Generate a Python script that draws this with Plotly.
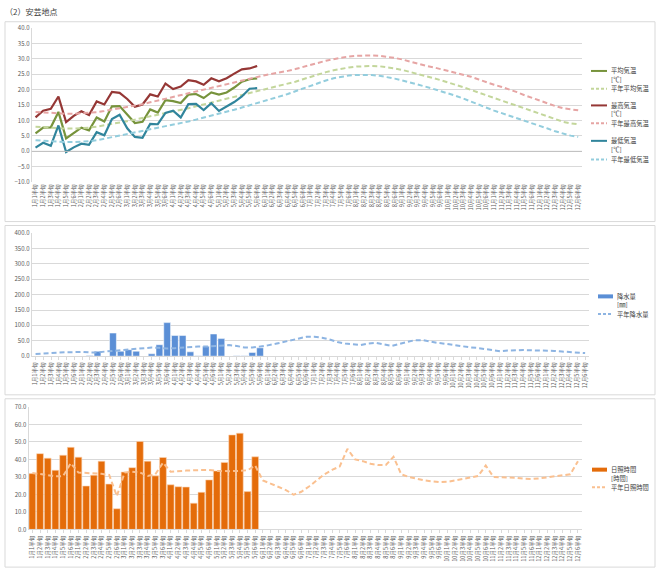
import plotly.graph_objects as go

W, H = 660, 578
FONT = "Noto Sans CJK JP"

months = [f"{m}月" for m in range(1, 13)]
pentads = [f"{k}半旬" for k in range(1, 7)]
cats = [m + p for m in months for p in pentads]

# ---- temperature (observed, 1月1半旬 .. 5月6半旬) ----
t_mean = [5.8, 7.7, 7.8, 12.8, 4.2, 6.0, 7.7, 6.8, 11.0, 9.7, 14.6, 14.7, 12.0, 9.2, 9.6,
          13.6, 12.6, 16.6, 16.3, 15.7, 18.4, 18.6, 17.3, 19.1, 18.4, 19.1, 20.7, 22.6, 23.4, 23.7]
t_max = [11.0, 13.2, 13.8, 17.8, 9.5, 11.5, 13.0, 11.8, 16.2, 15.2, 19.3, 19.0, 17.0, 14.5, 15.2,
         18.5, 17.8, 22.0, 20.2, 21.0, 23.1, 22.7, 21.6, 23.7, 22.7, 23.7, 25.2, 26.6, 26.9, 27.7]
t_min = [1.2, 2.8, 1.8, 8.4, -0.2, 1.3, 2.5, 2.1, 6.2, 5.2, 10.5, 11.9, 7.5, 4.7, 4.4,
         8.9, 8.8, 12.5, 13.2, 11.0, 15.3, 15.4, 13.4, 15.6, 13.1, 14.6, 16.0, 17.8, 20.3, 20.5]

# ---- temperature normals (72 pentads) ----
n_mean = [8.0, 7.8, 7.6, 7.5, 7.4, 7.4, 7.5, 7.7, 8.0, 8.4, 8.8, 9.3, 9.8, 10.3, 10.8, 11.3, 11.8, 12.3,
          12.8, 13.4, 14.0, 14.6, 15.2, 15.8, 16.4, 17.0, 17.7, 18.3, 18.9, 19.5, 20.0, 20.6, 21.2, 21.8,
          22.6, 23.4, 24.2, 25.0, 25.7, 26.3, 26.8, 27.2, 27.5, 27.7, 27.7, 27.6, 27.3, 26.9, 26.4, 25.8,
          25.2, 24.5, 23.8, 23.1, 22.4, 21.6, 20.8, 19.9, 19.0, 18.1, 17.2, 16.4, 15.6, 14.8, 13.9, 13.0,
          12.1, 11.2, 10.3, 9.6, 9.1, 8.8]
n_max = [12.8, 12.6, 12.4, 12.3, 12.2, 12.2, 12.3, 12.5, 12.7, 13.1, 13.5, 13.9, 14.3, 14.8, 15.3, 15.9,
         16.5, 17.1, 17.7, 18.3, 18.9, 19.5, 20.1, 20.7, 21.3, 21.9, 22.5, 23.1, 23.7, 24.2, 24.7, 25.2,
         25.6, 26.1, 26.7, 27.4, 28.1, 28.7, 29.4, 29.9, 30.4, 30.8, 31.0, 31.1, 31.1, 31.0, 30.7, 30.3,
         29.8, 29.1, 28.4, 27.8, 27.3, 26.7, 26.1, 25.5, 24.9, 24.2, 23.3, 22.4, 21.6, 20.9, 20.1, 19.2,
         18.2, 17.3, 16.4, 15.5, 14.7, 14.0, 13.6, 13.3]
n_min = [3.6, 3.4, 3.2, 3.1, 3.0, 3.0, 3.1, 3.3, 3.6, 4.1, 4.5, 5.0, 5.5, 6.0, 6.5, 7.0, 7.5, 8.0, 8.5,
         9.1, 9.7, 10.3, 10.9, 11.5, 12.1, 12.8, 13.5, 14.2, 14.9, 15.6, 16.3, 17.0, 17.8, 18.6, 19.5,
         20.4, 21.3, 22.2, 23.0, 23.7, 24.2, 24.6, 24.8, 24.9, 24.8, 24.5, 24.1, 23.6, 23.0, 22.4, 21.7,
         21.0, 20.3, 19.6, 18.8, 18.0, 17.1, 16.1, 15.1, 14.1, 13.2, 12.4, 11.6, 10.8, 10.0, 9.2, 8.3,
         7.4, 6.5, 5.7, 5.1, 4.7]

# ---- precipitation ----
precip = [0, 0, 0, 0, 0, 0, 0, 2, 16, 0, 75, 16, 21, 16, 0, 7.5, 37, 109, 67, 67, 14, 1, 32, 72, 57,
          0, 1, 1, 12, 27]
n_precip = [7, 9, 11, 12, 13, 13, 14, 12, 12, 15, 17, 19, 22, 24, 26, 28, 27, 25, 26, 28, 30, 31, 31,
            32, 34, 36, 33, 28, 28, 31, 35, 40, 46, 53, 59, 63, 63, 60, 54, 46, 41, 38, 36, 41, 43, 38,
            33, 40, 47, 52, 52, 47, 43, 40, 36, 31, 29, 27, 24, 20, 16, 18, 20, 20, 19, 19, 18, 17, 15,
            13, 11, 10]

# ---- sunshine ----
sun = [31.9, 43.3, 40.7, 33.8, 42.4, 46.9, 41.3, 24.8, 31.0, 39.0, 25.9, 11.8, 32.8, 35.3, 50.3,
       39.0, 30.6, 41.1, 25.5, 24.4, 24.2, 15.0, 21.2, 28.3, 33.4, 38.3, 54.0, 55.0, 21.6, 41.5]
n_sun = [32.3, 31.5, 30.8, 30.3, 30.5, 37.8, 32.5, 32.3, 32.0, 31.8, 31.1, 19.0, 32.5, 33.0, 32.5,
         30.6, 31.5, 38.1, 33.0, 33.5, 33.6, 33.8, 33.9, 34.0, 33.4, 33.2, 33.3, 33.5, 33.8, 36.5,
         28.0, 26.2, 24.5, 22.5, 19.8, 21.5, 24.5, 28.0, 31.5, 34.0, 36.0, 46.0, 40.0, 39.0, 37.5,
         36.8, 36.8, 41.5, 31.5, 30.0, 29.0, 28.0, 27.5, 27.0, 27.2, 28.0, 28.8, 29.8, 30.5, 36.5,
         30.0, 29.8, 29.7, 29.5, 29.0, 28.8, 29.2, 29.8, 30.2, 30.8, 31.5, 39.0]

C_MEAN, C_NMEAN = "#77933C", "#C3D69B"
C_MAX, C_NMAX = "#953735", "#E6A5A4"
C_MIN, C_NMIN = "#31859C", "#93CDDD"
C_PR, C_NPR = "#5B8FD6", "#8DB4E2"
C_SUN, C_NSUN = "#E46C0A", "#FAC090"
DASH = "5px,3px"

fig = go.Figure()
n = len(t_mean)
# panel 1
fig.add_trace(go.Scatter(x=cats[:n], y=t_mean, mode="lines", line=dict(color=C_MEAN, width=2.2), xaxis="x", yaxis="y"))
fig.add_trace(go.Scatter(x=cats, y=n_mean, mode="lines", line=dict(color=C_NMEAN, width=2, dash=DASH), xaxis="x", yaxis="y"))
fig.add_trace(go.Scatter(x=cats[:n], y=t_max, mode="lines", line=dict(color=C_MAX, width=2.2), xaxis="x", yaxis="y"))
fig.add_trace(go.Scatter(x=cats, y=n_max, mode="lines", line=dict(color=C_NMAX, width=2, dash=DASH), xaxis="x", yaxis="y"))
fig.add_trace(go.Scatter(x=cats[:n], y=t_min, mode="lines", line=dict(color=C_MIN, width=2.2), xaxis="x", yaxis="y"))
fig.add_trace(go.Scatter(x=cats, y=n_min, mode="lines", line=dict(color=C_NMIN, width=2, dash=DASH), xaxis="x", yaxis="y"))
# panel 2
fig.add_trace(go.Bar(x=cats[:len(precip)], y=precip, marker=dict(color=C_PR, line=dict(color="white", width=0.5)), xaxis="x2", yaxis="y2"))
fig.add_trace(go.Scatter(x=cats, y=n_precip, mode="lines", line=dict(color=C_NPR, width=2, dash=DASH), xaxis="x2", yaxis="y2"))
# panel 3
fig.add_trace(go.Bar(x=cats[:len(sun)], y=sun, marker=dict(color=C_SUN, line=dict(color="#FBD5B5", width=0.6)), xaxis="x3", yaxis="y3"))
fig.add_trace(go.Scatter(x=cats, y=n_sun, mode="lines", line=dict(color=C_NSUN, width=2, dash=DASH), xaxis="x3", yaxis="y3"))


def xd(a, b):
    return [a / W, b / W]


def yd(top, bottom):
    return [1 - bottom / H, 1 - top / H]


tickfont_x = dict(family=FONT, size=5.6, color="#595959")
tickfont_y = dict(family=FONT, size=6, color="#595959")
GRID = "#D9D9D9"

common_x = dict(type="category", range=[-0.5, 71.5], tickmode="array", tickvals=cats, ticktext=cats,
                tickangle=-90, tickfont=tickfont_x, showgrid=False, zeroline=False,
                showline=True, linecolor=GRID, linewidth=1, ticks="outside", ticklen=3, tickcolor=GRID,
                fixedrange=True)
common_y = dict(tickfont=tickfont_y, tickformat=".1f", showgrid=True, gridcolor=GRID, gridwidth=1,
                zeroline=False, showline=True, linecolor=GRID, linewidth=1, ticks="", fixedrange=True)

fig.update_layout(
    xaxis=dict(common_x, domain=xd(31.7, 582), anchor="y"),
    yaxis=dict(common_y, domain=yd(23.4, 180), range=[-10, 40], dtick=5, anchor="x"),
    xaxis2=dict(common_x, domain=xd(31.7, 589), anchor="y2"),
    yaxis2=dict(common_y, domain=yd(231.7, 356.7), range=[0, 400], dtick=50, anchor="x2"),
    xaxis3=dict(common_x, domain=xd(28.5, 581.8), anchor="y3"),
    yaxis3=dict(common_y, domain=yd(408.3, 532.7), range=[0, 70], dtick=10, anchor="x3"),
    bargap=0.12,
    barmode="overlay",
)
fig.layout.xaxis.showline = False
fig.layout.xaxis.ticks = ""

shapes = []
annotations = []

# zero line of panel 1 with tick marks
shapes.append(dict(type="line", xref="x domain", yref="y", x0=0, x1=1, y0=0, y1=0,
                   line=dict(color="#BFBFBF", width=1)))

# panel frames
for top, bottom in [(17, 220), (224, 396), (400, 571)]:
    shapes.append(dict(type="rect", xref="paper", yref="paper", x0=5 / W, x1=655 / W,
                       y0=1 - bottom / H, y1=1 - top / H, line=dict(color="#D9D9D9", width=1)))

# title
annotations.append(dict(text="（2）安芸地点", xref="paper", yref="paper", x=3 / W, y=1 - 7 / H,
                        xanchor="left", yanchor="middle", showarrow=False,
                        font=dict(family=FONT, size=8, color="#404040")))

# manual legends: (label lines, color, kind, sample x0, x1, y of first line)
legend_items = [
    (["平均気温", "[℃]"], C_MEAN, "solid", 591, 607, 67),
    (["平年平均気温"], C_NMEAN, "dash", 591, 607, 85),
    (["最高気温", "[℃]"], C_MAX, "solid", 591, 607, 102),
    (["平年最高気温"], C_NMAX, "dash", 591, 607, 120),
    (["最低気温", "[℃]"], C_MIN, "solid", 591, 607, 138),
    (["平年最低気温"], C_NMIN, "dash", 591, 607, 157),
    (["降水量", "[㎜]"], C_PR, "bar", 598, 613, 296),
    (["平年降水量"], C_NPR, "dash", 598, 613, 314),
    (["日照時間", "[時間]"], C_SUN, "bar", 592, 607, 472),
    (["平年日照時間"], C_NSUN, "dash", 592, 607, 490),
]
for lines, color, kind, x0, x1, y in legend_items:
    width = 4 if kind == "bar" else 2
    dash = "solid" if kind != "dash" else "3px,2px"
    shapes.append(dict(type="line", xref="paper", yref="paper", x0=x0 / W, x1=x1 / W,
                       y0=1 - y / H, y1=1 - y / H, line=dict(color=color, width=width, dash=dash)))
    for k, t in enumerate(lines):
        annotations.append(dict(text=t, xref="paper", yref="paper", x=(x1 + 2) / W, y=1 - (y + 8.5 * k) / H,
                                xanchor="left", yanchor="middle", showarrow=False,
                                font=dict(family=FONT, size=6.3, color="#404040")))

fig.update_layout(
    width=W, height=H, margin=dict(l=0, r=0, t=0, b=0),
    paper_bgcolor="white", plot_bgcolor="white",
    showlegend=False, shapes=shapes, annotations=annotations,
    font=dict(family=FONT, color="#595959"),
)

fig.write_html("out.html", config={"displayModeBar": False})
